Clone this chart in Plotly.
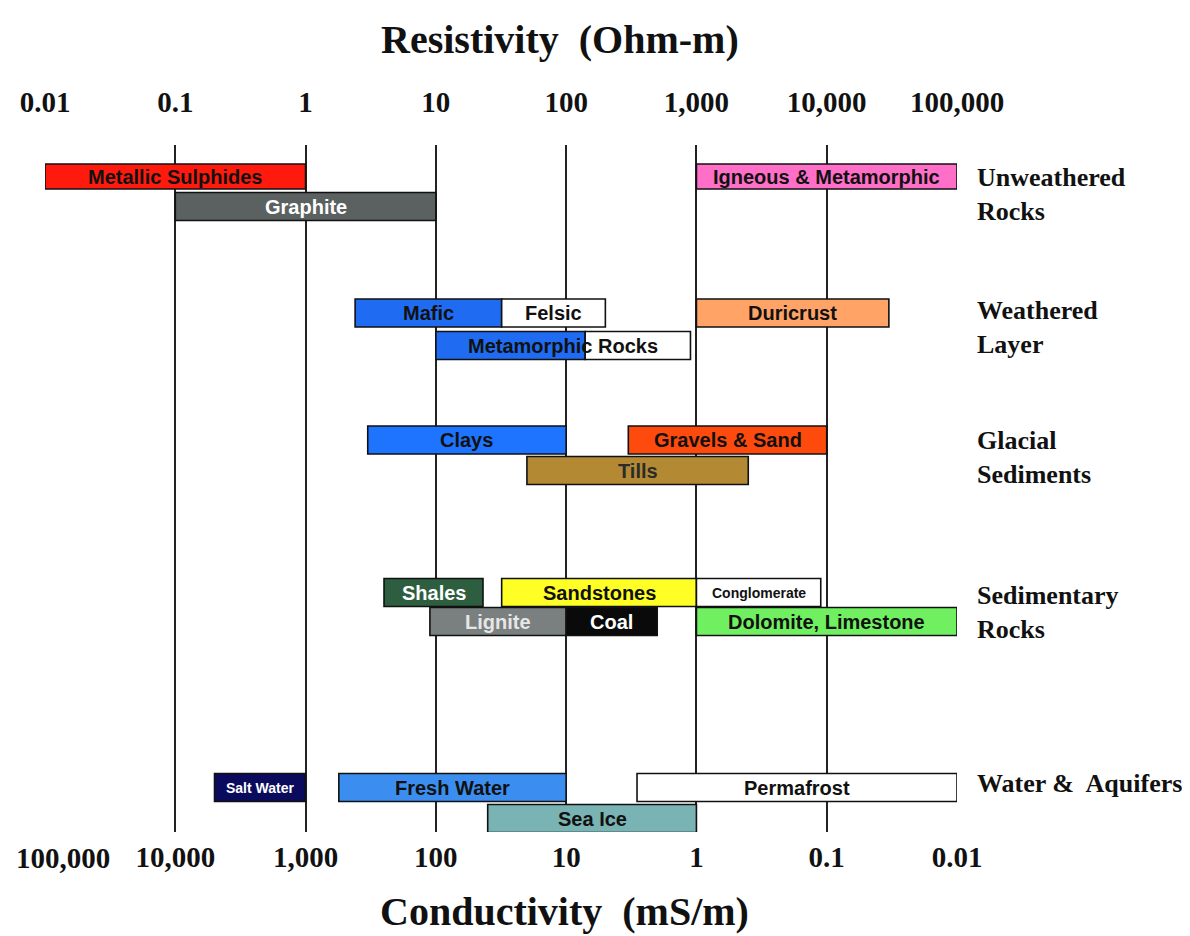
import math
import plotly.graph_objects as go

# ---------------- data ----------------
SEGMENTS = ["Metallic Sulphides", "Graphite", "Igneous & Metamorphic",
            "Mafic", "Felsic", "Duricrust",
            "Metamorphic Rocks (low)", "Metamorphic Rocks (high)",
            "Clays", "Gravels & Sand", "Tills",
            "Shales", "Sandstones", "Conglomerate",
            "Lignite", "Coal", "Dolomite, Limestone",
            "Salt Water", "Fresh Water", "Permafrost", "Sea Ice"]
RES_LOW = [0.01, 0.1, 1000,
           2.4, 32, 1000,
           10, 140,
           3, 300, 50,
           4, 32, 1000,
           9, 100, 1000,
           0.2, 1.8, 350, 25]
RES_HIGH = [1, 10, 100000,
            32, 200, 30000,
            140, 900,
            100, 10000, 2500,
            23, 1000, 9000,
            100, 500, 100000,
            1, 100, 100000, 1000]
# lane = depth of the row below the top of the chart
LANE = [31.5, 61.5, 31.5,
        168, 168, 168,
        200.5, 200.5,
        295, 295, 325.5,
        447.5, 447.5, 447.5,
        476.5, 476.5, 476.5,
        642.5, 642.5, 642.5, 673.5]

# bar labels: text and the segments they span
LABELS = ["Metallic Sulphides", "Graphite", "Igneous & Metamorphic",
          "Mafic", "Felsic", "Duricrust", "Metamorphic Rocks",
          "Clays", "Gravels & Sand", "Tills",
          "Shales", "Sandstones", "Conglomerate",
          "Lignite", "Coal", "Dolomite, Limestone",
          "Salt Water", "Fresh Water", "Permafrost", "Sea Ice"]
LABEL_SPAN = [(0, 0), (1, 1), (2, 2),
              (3, 3), (4, 4), (5, 5), (6, 7),
              (8, 8), (9, 9), (10, 10),
              (11, 11), (12, 12), (13, 13),
              (14, 14), (15, 15), (16, 16),
              (17, 17), (18, 18), (19, 19), (20, 20)]

GROUPS = ["Unweathered<br>Rocks", "Weathered<br>Layer", "Glacial<br>Sediments",
          "Sedimentary<br>Rocks", "Water &\u00a0 Aquifers"]
GROUP_LANE = [49, 182, 312, 467, 638]

DECADES = [0.01, 0.1, 1, 10, 100, 1000, 10000, 100000]
RES_TICKS = ["0.01", "0.1", "1", "10", "100", "1,000", "10,000", "100,000"]
COND_TICKS = ["100,000", "10,000", "1,000", "100", "10", "1", "0.1", "0.01"]

# ---------------- styles ----------------
BAR_COLORS = {
    "Metallic Sulphides": "#ff1a0d", "Graphite": "#5b6161",
    "Igneous & Metamorphic": "#ff6fc8", "Mafic": "#1f6cf2", "Felsic": "#ffffff",
    "Duricrust": "#ffa466", "Metamorphic Rocks (low)": "#1f6cf2",
    "Metamorphic Rocks (high)": "#ffffff", "Clays": "#1f74ff",
    "Gravels & Sand": "#ff4a0d", "Tills": "#b38a33", "Shales": "#2d5e3f",
    "Sandstones": "#ffff26", "Conglomerate": "#ffffff", "Lignite": "#7a8080",
    "Coal": "#0a0a0a", "Dolomite, Limestone": "#70f060", "Salt Water": "#0b0b5e",
    "Fresh Water": "#3b8ef0", "Permafrost": "#ffffff", "Sea Ice": "#7ab3b3",
}
TEXT_COLORS = {"Graphite": "#ffffff", "Shales": "#ffffff", "Lignite": "#e6e6e6",
               "Coal": "#ffffff", "Salt Water": "#ffffff", "Tills": "#2b2b2b"}
SMALL_TEXT = {"Conglomerate", "Salt Water"}

SERIF = "Liberation Serif"
SANS = "Liberation Sans"

fig = go.Figure()

fig.add_trace(go.Bar(
    orientation="h",
    y=LANE,
    base=RES_LOW,
    x=[h - l for l, h in zip(RES_LOW, RES_HIGH)],
    width=[25 if lane < 40 else 28 for lane in LANE],
    marker=dict(color=[BAR_COLORS[s] for s in SEGMENTS],
                line=dict(color="#111111", width=1.6)),
    hoverinfo="skip",
    showlegend=False,
))

# invisible trace to carry the top (resistivity) axis
fig.add_trace(go.Scatter(x=[DECADES[0], DECADES[-1]], y=[0, 0], mode="none",
                         xaxis="x2", yaxis="y", showlegend=False, hoverinfo="skip"))

annotations = []
for text, (a, b) in zip(LABELS, LABEL_SPAN):
    lo, hi = RES_LOW[a], RES_HIGH[b]
    xc = (math.log10(lo) + math.log10(hi)) / 2
    annotations.append(dict(
        x=xc, y=LANE[a], xref="x", yref="y", text=text, showarrow=False,
        xanchor="center", yanchor="middle",
        font=dict(family=SANS, weight="bold",
                  size=14 if text in SMALL_TEXT else 20,
                  color=TEXT_COLORS.get(text, "#111111")),
    ))

for text, lane in zip(GROUPS, GROUP_LANE):
    annotations.append(dict(
        x=1.02, y=lane, xref="paper", yref="y", text=text, showarrow=False,
        xanchor="left", yanchor="middle", align="left",
        font=dict(family=SERIF, weight="bold", size=26, color="#111111"),
    ))

annotations.append(dict(
    x=0.565, y=1.153, xref="paper", yref="paper",
    text="Resistivity\u00a0 (Ohm-m)", showarrow=False,
    xanchor="center", yanchor="middle",
    font=dict(family=SERIF, weight="bold", size=40, color="#111111"),
))
annotations.append(dict(
    x=0.57, y=-0.116, xref="paper", yref="paper",
    text="Conductivity\u00a0 (mS/m)", showarrow=False,
    xanchor="center", yanchor="middle",
    font=dict(family=SERIF, weight="bold", size=40, color="#111111"),
))

tick_font = dict(family=SERIF, weight="bold", size=29, color="#111111")

# the left-most conductivity label sits inside the page edge, as in the original
annotations.append(dict(
    x=math.log10(DECADES[0]), y=-0.038, xref="x", yref="paper",
    text=COND_TICKS[0], showarrow=False, xanchor="left", yanchor="middle",
    xshift=-31, font=tick_font,
))
cond_text = [""] + COND_TICKS[1:]

fig.update_layout(
    width=1182, height=928,
    margin=dict(l=37, r=233, t=137, b=104, autoexpand=False),
    paper_bgcolor="white", plot_bgcolor="white",
    barmode="overlay",
    annotations=annotations,
    xaxis=dict(type="log", range=[math.log10(DECADES[0]), math.log10(DECADES[-1])],
               tickvals=DECADES, ticktext=cond_text, tickfont=tick_font,
               showgrid=True, gridcolor="#222222", gridwidth=1.6,
               showline=False, zeroline=False, ticks="", ticklabelstandoff=5,
               ticklabeloverflow="allow", automargin=False, fixedrange=True),
    xaxis2=dict(type="log", overlaying="x", side="top", matches="x",
                range=[math.log10(DECADES[0]), math.log10(DECADES[-1])],
                tickvals=DECADES, ticktext=RES_TICKS, tickfont=tick_font,
                showgrid=False, showline=False, zeroline=False, ticks="",
                ticklabelstandoff=26, ticklabeloverflow="allow", automargin=False),
    yaxis=dict(range=[687, 0], showgrid=False, zeroline=False,
               showticklabels=False, showline=False, automargin=False,
               fixedrange=True),
)

fig.write_html("out.html")
